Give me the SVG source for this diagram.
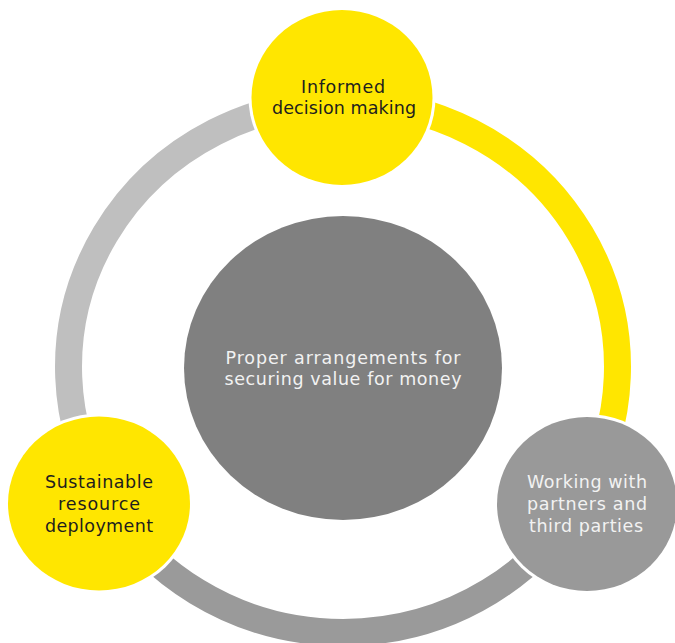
<svg xmlns="http://www.w3.org/2000/svg" width="675" height="643" viewBox="0 0 675 643">
  <style>
    .seg { fill: none; stroke-width: 27; }
    .halo { fill: #ffffff; }
    .lbl { font-family: "DejaVu Sans", "Liberation Sans", Arial, sans-serif; font-size: 17.5px; text-anchor: middle; }
    .dark { fill: #1e1e1e; }
    .light { fill: #f2f2f2; }
  </style>
  <rect width="675" height="643" fill="#ffffff"/>
  <g id="connectors">
    <path class="seg" stroke="#bfbfbf" d="M343,101.5 A274.5,265.5 0 0 0 105.3,499.75"/>
    <path class="seg" stroke="#ffe600" d="M343,101.5 A274.5,265.5 0 0 1 580.7,499.75"/>
    <path class="seg" stroke="#9a9a9a" d="M105.3,499.75 A274.5,265.5 0 0 0 580.7,499.75"/>
  </g>
  <g id="node-center">
    <ellipse cx="343" cy="368" rx="159" ry="152" fill="#808080"/>
    <text class="lbl light" x="343" y="364" textLength="235" lengthAdjust="spacing">Proper arrangements for</text>
    <text class="lbl light" x="343" y="385" textLength="237" lengthAdjust="spacing">securing value for money</text>
  </g>
  <g id="node-informed">
    <ellipse class="halo" cx="342" cy="97.5" rx="93.5" ry="90.5"/>
    <ellipse cx="342" cy="97.5" rx="90.5" ry="87.5" fill="#ffe600"/>
    <text class="lbl dark" x="343" y="92.7" textLength="84" lengthAdjust="spacing">Informed</text>
    <text class="lbl dark" x="344" y="114.3" textLength="144" lengthAdjust="spacing">decision making</text>
  </g>
  <g id="node-sustainable">
    <ellipse class="halo" cx="99" cy="503.5" rx="94" ry="90"/>
    <ellipse cx="99" cy="503.5" rx="91" ry="87" fill="#ffe600"/>
    <text class="lbl dark" x="99" y="488.3" textLength="108" lengthAdjust="spacing">Sustainable</text>
    <text class="lbl dark" x="99" y="510" textLength="82" lengthAdjust="spacing">resource</text>
    <text class="lbl dark" x="99" y="531.7" textLength="108" lengthAdjust="spacing">deployment</text>
  </g>
  <g id="node-working">
    <ellipse class="halo" cx="587" cy="504" rx="93" ry="90"/>
    <ellipse cx="587" cy="504" rx="90" ry="87" fill="#999999"/>
    <text class="lbl light" x="587" y="488.3" textLength="120" lengthAdjust="spacing">Working with</text>
    <text class="lbl light" x="587" y="510" textLength="120" lengthAdjust="spacing">partners and</text>
    <text class="lbl light" x="586" y="531.7" textLength="114" lengthAdjust="spacing">third parties</text>
  </g>
</svg>
